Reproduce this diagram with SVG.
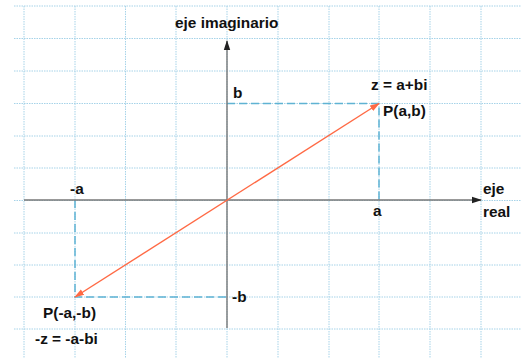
<svg xmlns="http://www.w3.org/2000/svg" width="521" height="358" viewBox="0 0 521 358">
<defs>
<style>
.grid line{stroke:#a6d3e8;stroke-width:1;stroke-dasharray:1.5,1}
.axis{stroke:#777;stroke-width:1.4;fill:none}
.guide{stroke:#5fb3d3;stroke-width:1.5;stroke-dasharray:8,4;fill:none}
.vec{stroke:#ff6a45;stroke-width:1.4;fill:none}
text{font-family:"Liberation Sans",Arial,sans-serif;font-weight:bold;font-size:15.4px;fill:#111}
</style>
<marker id="ah" markerWidth="10" markerHeight="8" refX="9" refY="4" orient="auto" markerUnits="userSpaceOnUse">
<path d="M0,0.8 L10,4 L0,7.2 Z" fill="#222"/>
</marker>
<marker id="vh" markerWidth="10" markerHeight="8" refX="9" refY="4" orient="auto-start-reverse" markerUnits="userSpaceOnUse">
<path d="M0,0.8 L10,4 L0,7.2 Z" fill="#ff6a45"/>
</marker>
</defs>
<rect width="521" height="358" fill="#fff"/>
<g class="grid">
<line x1="24" y1="6" x2="24" y2="358"/>
<line x1="75" y1="6" x2="75" y2="358"/>
<line x1="125.5" y1="6" x2="125.5" y2="358"/>
<line x1="176" y1="6" x2="176" y2="358"/>
<line x1="227" y1="6" x2="227" y2="358"/>
<line x1="278" y1="6" x2="278" y2="358"/>
<line x1="329" y1="6" x2="329" y2="358"/>
<line x1="379" y1="6" x2="379" y2="358"/>
<line x1="430" y1="6" x2="430" y2="358"/>
<line x1="481" y1="6" x2="481" y2="358"/>
<line x1="14" y1="6" x2="521" y2="6"/>
<line x1="14" y1="38.5" x2="521" y2="38.5"/>
<line x1="14" y1="71" x2="521" y2="71"/>
<line x1="14" y1="103.5" x2="521" y2="103.5"/>
<line x1="14" y1="136" x2="521" y2="136"/>
<line x1="14" y1="168" x2="521" y2="168"/>
<line x1="14" y1="200.5" x2="521" y2="200.5"/>
<line x1="14" y1="233" x2="521" y2="233"/>
<line x1="14" y1="265" x2="521" y2="265"/>
<line x1="14" y1="297" x2="521" y2="297"/>
<line x1="14" y1="329" x2="521" y2="329"/>
</g>
<g id="connectors">
<path class="guide" d="M227,103.5 H379 V200"/>
<path class="guide" d="M75,200 V297 H227"/>
<line class="axis" x1="24" y1="200" x2="481" y2="200" marker-end="url(#ah)"/>
<line class="axis" x1="227" y1="328" x2="227" y2="41" marker-end="url(#ah)"/>
<line class="vec" x1="75" y1="297" x2="379" y2="103.5" marker-start="url(#vh)" marker-end="url(#vh)"/>
</g>
<g id="axis-imag"><text x="175" y="28">eje imaginario</text></g>
<g id="axis-real"><text x="483" y="194">eje</text><text x="483" y="217">real</text></g>
<g id="label-b"><text x="233" y="98">b</text></g>
<g id="label-z"><text x="371" y="90">z = a+bi</text></g>
<g id="label-P"><text x="383" y="116">P(a,b)</text></g>
<g id="label-ma"><text x="70" y="194">-a</text></g>
<g id="label-a"><text x="373" y="216">a</text></g>
<g id="label-mb"><text x="232" y="302">-b</text></g>
<g id="label-mP"><text x="43" y="318">P(-a,-b)</text></g>
<g id="label-mz"><text x="35" y="344">-z = -a-bi</text></g>
</svg>
